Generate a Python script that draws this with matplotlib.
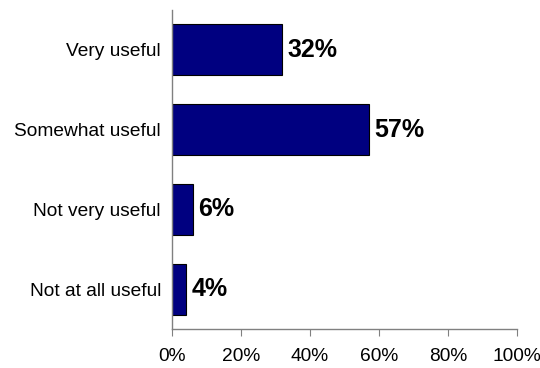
import matplotlib.pyplot as plt
from matplotlib.ticker import PercentFormatter

categories = ["Very useful", "Somewhat useful", "Not very useful", "Not at all useful"]
values = [32, 57, 6, 4]
xticks = [0, 20, 40, 60, 80, 100]

narrow = ["Liberation Sans Narrow", "Liberation Sans", "DejaVu Sans"]
bold = ["Liberation Sans", "DejaVu Sans"]

fig = plt.figure(figsize=(5.4, 3.68), dpi=100)
ax = fig.add_axes([0.3185, 0.106, 0.6385, 0.867])

pos = list(range(len(categories)))
ax.barh(pos, values, height=0.64, color="#000080", edgecolor="black", linewidth=0.8)

for p, v in zip(pos, values):
    ax.annotate(f"{v}%", xy=(v, p), xytext=(4, 0), textcoords="offset points",
                va="center", ha="left", fontsize=18, fontweight="bold", family=bold)

ax.set_xlim(0, 100)
ax.set_ylim(len(categories) - 0.5, -0.5)
ax.set_xticks(xticks)
ax.xaxis.set_major_formatter(PercentFormatter(decimals=0))
ax.set_yticks(pos)
ax.set_yticklabels(categories)

for lab in ax.get_xticklabels() + ax.get_yticklabels():
    lab.set_family(narrow)
    lab.set_fontsize(13.8)

for side in ("top", "right"):
    ax.spines[side].set_visible(False)
for side in ("left", "bottom"):
    ax.spines[side].set_color("#808080")
    ax.spines[side].set_linewidth(1)

ax.tick_params(axis="y", length=0, pad=8)
ax.tick_params(axis="x", length=5, color="#808080", pad=9)

fig.savefig("out.png", dpi=100)
